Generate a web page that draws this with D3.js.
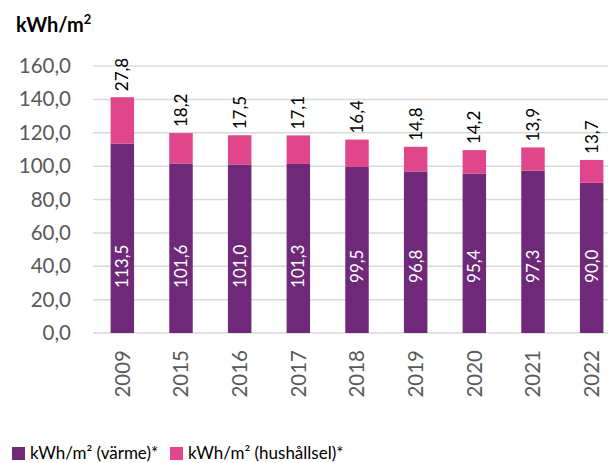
<!DOCTYPE html>
<html><head><meta charset="utf-8">
<script src="https://cdn.jsdelivr.net/npm/d3@7"></script>
<style>body{margin:0;background:#fff}svg{display:block}</style>
</head><body>
<svg id="c" width="608" height="463"></svg>
<script>
const categories = ["2009","2015","2016","2017","2018","2019","2020","2021","2022"];
const heat = [113.5,101.6,101.0,101.3,99.5,96.8,95.4,97.3,90.0];
const elec = [27.8,18.2,17.5,17.1,16.4,14.8,14.2,13.9,13.7];
const yTicks = [0,20,40,60,80,100,120,140,160];
const seriesNames = ["kWh/m² (värme)*","kWh/m² (hushållsel)*"];
const colors = ["#6E2A78","#E0478B"];
const font = "Lato, 'Open Sans', sans-serif";
const fmt = v => v.toFixed(1).replace(".", ",");

const svg = d3.select("#c");
const x = d3.scaleBand().domain(categories).range([93, 621]).paddingInner(0.6).paddingOuter(0.3);
const y = d3.scaleLinear().domain([0,160]).range([333, 66]);

// grid
svg.append("g").selectAll("line").data(yTicks).join("line")
  .attr("x1", 93).attr("x2", 608).attr("y1", d=>y(d)).attr("y2", d=>y(d))
  .attr("stroke", "#d9d9d9").attr("stroke-width", 1.5);

// y axis labels
const ya = svg.append("g").attr("transform","translate(71,0)")
  .call(d3.axisLeft(y).tickValues(yTicks).tickFormat(fmt).tickSize(0).tickPadding(0));
ya.select(".domain").remove();
ya.selectAll("text").attr("font-family", font).attr("font-size", 20.5).attr("fill", "#595959");

// bars
const g = svg.append("g");
g.selectAll("rect.h").data(categories).join("rect").attr("class","h")
  .attr("x", d=>x(d)).attr("width", x.bandwidth())
  .attr("y", (d,i)=>y(heat[i])).attr("height", (d,i)=>y(0)-y(heat[i]))
  .attr("fill", colors[0]);
g.selectAll("rect.e").data(categories).join("rect").attr("class","e")
  .attr("x", d=>x(d)).attr("width", x.bandwidth())
  .attr("y", (d,i)=>y(heat[i]+elec[i])).attr("height", (d,i)=>y(heat[i])-y(heat[i]+elec[i]))
  .attr("fill", colors[1]);

// inner labels
g.selectAll("text.h").data(categories).join("text").attr("class","h")
  .attr("transform", (d,i)=>`translate(${x(d)+x.bandwidth()/2},${y(40)}) rotate(-90)`)
  .attr("text-anchor","middle").attr("dy","0.35em")
  .attr("font-family", font).attr("font-size", 17).attr("fill", "#fff")
  .text((d,i)=>fmt(heat[i]));
// top labels
g.selectAll("text.e").data(categories).join("text").attr("class","e")
  .attr("transform", (d,i)=>`translate(${x(d)+x.bandwidth()/2},${y(heat[i]+elec[i])-6}) rotate(-90)`)
  .attr("text-anchor","start").attr("dy","0.35em")
  .attr("font-family", font).attr("font-size", 17).attr("fill", "#000")
  .text((d,i)=>fmt(elec[i]));

// x axis labels
const xa = svg.append("g").attr("transform","translate(0,340)")
  .call(d3.axisBottom(x).tickSize(0).tickPadding(0));
xa.select(".domain").remove();
xa.selectAll("text").attr("transform","rotate(-90)").attr("text-anchor","end")
  .attr("x", -10).attr("y", 0).attr("dy","0.35em")
  .attr("font-family", font).attr("font-size", 20.5).attr("fill", "#595959");

// title
svg.append("text").attr("x", 16).attr("y", 32)
  .attr("font-family", font).attr("font-size", 20).attr("font-weight","bold").attr("fill","#000")
  .html("kWh/m<tspan font-size='13' dy='-8'>2</tspan>");

// legend
const leg = svg.append("g");
const lx = [12, 170];
seriesNames.forEach((n,i)=>{
  leg.append("rect").attr("x", lx[i]).attr("y", 447).attr("width", 13).attr("height", 13).attr("fill", colors[i]);
  leg.append("text").attr("x", lx[i]+18).attr("y", 459)
    .attr("font-family", font).attr("font-size", 17).attr("fill", "#000").text(n);
});
</script>
</body></html>
